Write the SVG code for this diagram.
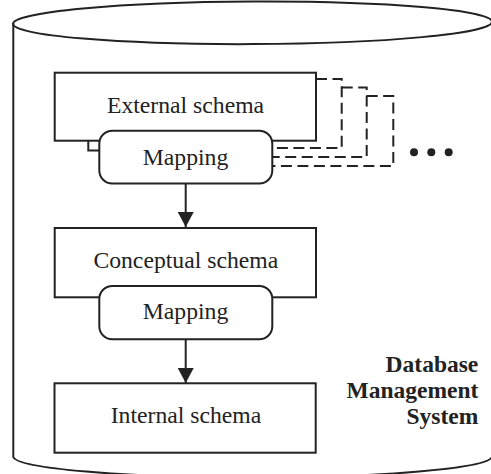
<svg xmlns="http://www.w3.org/2000/svg" width="491" height="474" viewBox="0 0 491 474">
<style>
.ln{fill:none;stroke:#222;stroke-width:2}
.box{fill:#fff;stroke:#222;stroke-width:2}
.ds{fill:none;stroke:#222;stroke-width:2;stroke-dasharray:11 5.5}
.t{font-family:"Liberation Serif","Times New Roman",serif;font-size:23.7px;fill:#222;text-anchor:middle}
.b{font-family:"Liberation Serif","Times New Roman",serif;font-size:23.5px;font-weight:bold;fill:#222;text-anchor:end}
</style>
<defs>
<marker id="ah" markerWidth="16" markerHeight="16" viewBox="0 0 16 16" refX="15" refY="8" orient="auto" markerUnits="userSpaceOnUse">
<path d="M0,0 L15,8 L0,16 Z" fill="#222"/>
</marker>
</defs>
<g id="cylinder">
<ellipse cx="252.5" cy="22.8" rx="239.5" ry="21.3" class="ln" transform="rotate(-0.25 252.5 22.8)"/>
<path d="M13.3,23 V457 A239.5,21.3 0 0 0 492,457" class="ln"/>
</g>
<g id="connectors">
<path d="M316,79 H341.7 V148 H272" class="ds"/>
<path d="M341.7,87.5 H366.7 V157 H272" class="ds"/>
<path d="M366.7,96 H393.3 V166 H272" class="ds"/>
<path d="M88.3,141 V150.5 H100" class="ln"/>
<line x1="185.7" y1="183.5" x2="185.7" y2="227" class="ln" marker-end="url(#ah)"/>
<line x1="185.7" y1="339.5" x2="185.7" y2="383" class="ln" marker-end="url(#ah)"/>
</g>
<g id="external">
<rect x="54.7" y="72.7" width="261.3" height="68" class="box"/>
<text x="185.5" y="112.7" class="t">External schema</text>
</g>
<g id="mapping1">
<rect x="99.3" y="130.7" width="173" height="52.8" rx="13" class="box"/>
<text x="185.5" y="165" class="t">Mapping</text>
</g>
<g id="conceptual">
<rect x="54.7" y="228" width="261.3" height="69.3" class="box"/>
<text x="185.8" y="268.3" class="t">Conceptual schema</text>
</g>
<g id="mapping2">
<rect x="99.3" y="286" width="173" height="53.3" rx="13" class="box"/>
<text x="185.5" y="319.3" class="t">Mapping</text>
</g>
<g id="internal">
<rect x="54.5" y="383.3" width="261.2" height="69.4" class="box"/>
<text x="186" y="423.3" class="t">Internal schema</text>
</g>
<g id="dots" fill="#222">
<circle cx="414" cy="152.3" r="4"/>
<circle cx="431.3" cy="152.3" r="4"/>
<circle cx="448.7" cy="152.3" r="4"/>
</g>
<g id="dbms">
<text class="b"><tspan x="478.3" y="372">Database</tspan><tspan x="478.3" y="398.3">Management</tspan><tspan x="478.3" y="423.5">System</tspan></text>
</g>
</svg>
